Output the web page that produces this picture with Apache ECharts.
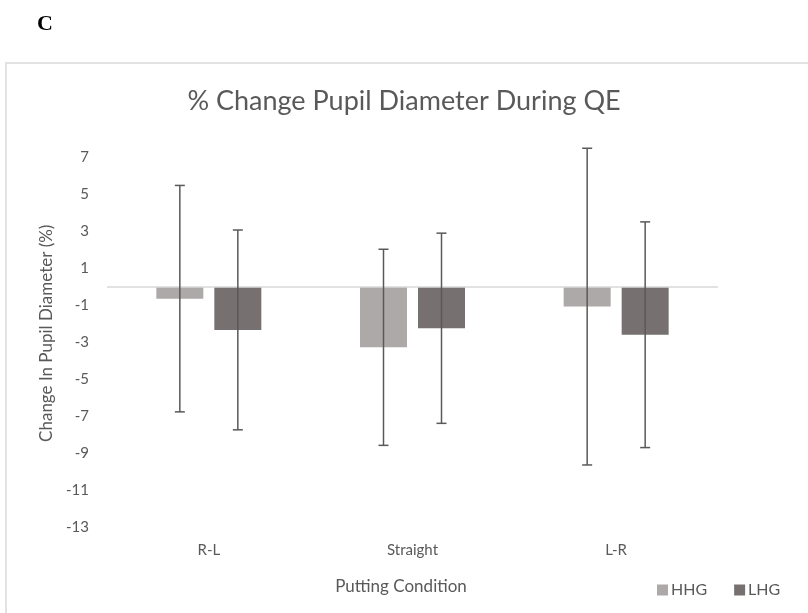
<!DOCTYPE html>
<html>
<head>
<meta charset="utf-8">
<script src="https://cdn.jsdelivr.net/npm/echarts@6/dist/echarts.min.js"></script>
<style>
  html, body { margin: 0; padding: 0; background: #fff; }
  #chart { width: 808px; height: 613px; }
</style>
</head>
<body>
<div id="chart"></div>
<script>
// data
var categories = ['R-L', 'Straight', 'L-R']
var hhgMean = [-0.63, -3.26, -1.06]
var hhgErr = [6.12, 5.3, 8.56]
var lhgMean = [-2.32, -2.23, -2.58]
var lhgErr = [5.4, 5.14, 6.1]

var HHG_COLOR = '#ADA9A8'
var LHG_COLOR = '#767170'
var BAR_W = 47
var BAR_GAP = 11

var chart = echarts.init(document.getElementById('chart'))

function errorSeries (name, means, errs, side) {
  var rows = means.map(function (m, i) { return [i, m - errs[i], m + errs[i]] })
  return {
    name: name + ' err',
    type: 'custom',
    z: 5,
    silent: true,
    data: rows,
    renderItem: function (params, api) {
      var lo = api.coord([api.value(0), api.value(1)])
      var hi = api.coord([api.value(0), api.value(2)])
      var x = lo[0] + side * (BAR_W + BAR_GAP) / 2
      var cap = 5
      var style = { stroke: '#595959', lineWidth: 1.5, fill: null }
      return {
        type: 'group',
        children: [
          { type: 'line', shape: { x1: x, y1: lo[1], x2: x, y2: hi[1] }, style: style },
          { type: 'line', shape: { x1: x - cap, y1: lo[1], x2: x + cap, y2: lo[1] }, style: style },
          { type: 'line', shape: { x1: x - cap, y1: hi[1], x2: x + cap, y2: hi[1] }, style: style }
        ]
      }
    }
  }
}

chart.setOption({
  animation: false,
  textStyle: { fontFamily: 'Lato' },
  title: {
    text: '% Change Pupil Diameter During QE',
    left: 'center',
    top: 83,
    textStyle: { fontFamily: 'Lato', fontWeight: 'normal', fontSize: 27, color: '#595959' }
  },
  graphic: [
    {
      type: 'text',
      left: 37,
      top: 13,
      style: { text: 'C', font: 'bold 22px "Liberation Serif"', fill: '#000' }
    },
    {
      type: 'rect',
      shape: { x: 6, y: 63, width: 820, height: 600 },
      style: { fill: null, stroke: '#D9D9D9', lineWidth: 1.5 },
      z: -1
    }
  ],
  legend: {
    left: 652,
    top: 577,
    icon: 'rect',
    itemWidth: 11,
    itemHeight: 11,
    itemGap: 27,
    textStyle: { fontFamily: 'Lato', fontSize: 16, color: '#595959', padding: [0, 0, 0, -2] },
    data: ['HHG', 'LHG']
  },
  grid: {
    left: 107,
    right: 90,
    top: 139,
    bottom: 85.5
  },
  xAxis: {
    type: 'category',
    data: categories,
    axisLine: { show: false, onZero: false },
    axisTick: { show: false },
    axisLabel: { margin: 15, fontSize: 15, color: '#595959', fontFamily: 'Lato' },
    name: 'Putting Condition',
    nameLocation: 'middle',
    nameGap: 51,
    nameMoveOverlap: false,
    nameTextStyle: { fontSize: 17, color: '#595959', fontFamily: 'Lato', padding: [0, 23, 0, 0] }
  },
  yAxis: {
    type: 'value',
    min: -13,
    max: 8,
    interval: 1,
    axisLine: { show: false },
    axisTick: { show: false },
    splitLine: { show: false },
    axisLabel: {
      margin: 18,
      fontSize: 15,
      color: '#595959',
      fontFamily: 'Lato',
      formatter: function (v) { return Math.abs(v % 2) === 1 ? String(v) : '' }
    },
    name: 'Change In Pupil Diameter (%)',
    nameLocation: 'middle',
    nameGap: 52,
    nameMoveOverlap: false,
    nameTextStyle: { fontSize: 17, color: '#595959', fontFamily: 'Lato' }
  },
  series: [
    {
      name: 'HHG',
      type: 'bar',
      barWidth: BAR_W,
      barGap: (BAR_GAP / BAR_W * 100) + '%',
      itemStyle: { color: HHG_COLOR },
      data: hhgMean,
      markLine: {
        silent: true,
        symbol: 'none',
        label: { show: false },
        lineStyle: { color: '#D9D9D9', width: 1.5, type: 'solid' },
        data: [{ yAxis: 0 }]
      }
    },
    {
      name: 'LHG',
      type: 'bar',
      barWidth: BAR_W,
      itemStyle: { color: LHG_COLOR },
      data: lhgMean
    },
    errorSeries('HHG', hhgMean, hhgErr, -1),
    errorSeries('LHG', lhgMean, lhgErr, 1)
  ]
})
</script>
</body>
</html>
